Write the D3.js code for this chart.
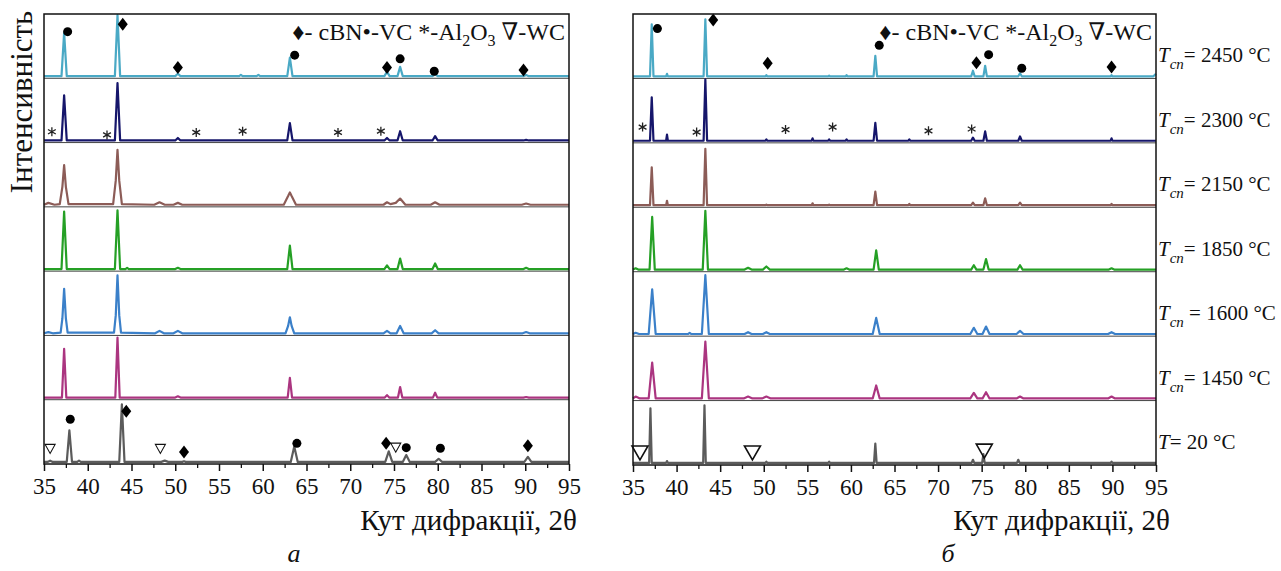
<!DOCTYPE html>
<html><head><meta charset="utf-8">
<script src="https://cdn.jsdelivr.net/npm/d3@7"></script>
<style>
body{margin:0;background:#fff}
svg{display:block}
text{font-family:"Liberation Serif","Times New Roman","DejaVu Serif",serif;fill:#111}
</style>
</head><body>
<svg id="chart" width="1281" height="571"></svg>
<script>
// ---------- DATA ----------
const rowLabels = ["2450","2300","2150","1850","1600","1450","20"];
const tickValues = [35,40,45,50,55,60,65,70,75,80,85,90,95];
const minorTicks = [37.5,42.5,47.5,52.5,57.5,62.5,67.5,72.5,77.5,82.5,87.5,92.5];
const rowColors = ["#4aa9c5","#16166b","#8c5c57","#25a025","#3b80c9","#ab3580","#5b5b5b"];

// panel a spectra: [2θ, relative intensity]
const L2450 = [[35,1],[37.0,1],[37.3,71],[37.6,1],[43.1,1],[43.4,100],[43.7,1],[50.0,1],[50.3,5],[50.6,1],[57.3,1],[57.5,3],[57.7,1],[59.3,1],[59.5,3],[59.7,1],[62.8,1],[63.1,31],[63.4,1],[73.9,1],[74.2,8],[74.5,1],[75.4,1],[75.7,16],[76.0,1],[79.4,1],[79.7,4],[80.0,1],[89.8,1],[90.1,3],[90.4,1],[95,1]];
const L2300 = [[35,1],[37.0,1],[37.3,74],[37.6,1],[43.1,1],[43.4,94],[43.7,1],[50.0,1],[50.3,5],[50.6,1],[62.8,1],[63.1,29],[63.4,1],[73.9,1],[74.2,5],[74.5,1],[75.4,1],[75.7,16],[76.0,1],[79.4,1],[79.7,8],[80.0,1],[89.8,1],[90.1,2],[90.4,1],[95,1]];
const L2150 = [[35,1],[35.5,4],[36.2,1],[36.8,2],[37.1,30],[37.3,65],[37.5,30],[37.8,2],[42.9,2],[43.2,40],[43.4,90],[43.6,40],[43.9,2],[47.6,1],[48.2,5],[48.8,1],[49.8,1],[50.3,4],[50.8,1],[62.4,1],[62.9,15],[63.1,21],[63.3,15],[63.8,1],[73.8,1],[74.2,5],[74.6,2],[75.2,4],[75.7,11],[76.3,1],[79.2,1],[79.7,5],[80.2,1],[89.6,1],[90.1,3],[90.6,1],[95,1]];
const L1850 = [[35,1],[37.0,1],[37.3,94],[37.6,1],[43.1,1],[43.4,96],[43.7,1],[44.3,1],[44.5,3],[44.7,1],[50.0,1],[50.3,3],[50.6,1],[62.8,1],[63.1,39],[63.4,1],[73.9,1],[74.2,7],[74.5,1],[75.4,1],[75.7,18],[76.0,1],[79.4,1],[79.7,10],[80.0,1],[89.8,1],[90.1,3],[90.4,1],[95,1]];
const L1600 = [[35,1],[35.5,3],[36.0,1],[36.9,2],[37.1,25],[37.3,73],[37.5,25],[37.7,2],[43.0,2],[43.2,30],[43.4,95],[43.6,30],[43.8,2],[47.7,1],[48.2,5],[48.7,1],[49.8,1],[50.3,5],[50.8,1],[62.6,1],[62.9,13],[63.1,27],[63.3,13],[63.6,1],[73.8,1],[74.2,5],[74.6,1],[75.3,1],[75.7,13],[76.1,1],[79.3,1],[79.7,6],[80.1,1],[89.7,1],[90.1,3],[90.5,1],[95,1]];
const L1450 = [[35,1],[37.05,1],[37.3,80],[37.55,1],[43.15,1],[43.4,98],[43.65,1],[50.0,1],[50.3,3],[50.6,1],[62.85,1],[63.1,33],[63.35,1],[73.95,1],[74.2,5],[74.45,1],[75.45,1],[75.7,18],[75.95,1],[79.45,1],[79.7,9],[79.95,1],[89.8,1],[90.1,2],[90.4,1],[95,1]];
const L20 = [[35,1],[35.4,1],[35.7,3],[36.0,1],[37.6,1],[37.9,52],[38.2,1],[38.8,1],[39.0,3],[39.2,1],[43.6,1],[43.9,94],[44.2,1],[48.4,1],[48.8,3],[49.2,1],[50.8,1],[51.0,2],[51.2,1],[63.2,1],[63.6,26],[64.0,1],[74.0,1],[74.4,18],[74.8,1],[76.0,1],[76.4,12],[76.8,1],[79.7,1],[80.1,6],[80.5,1],[89.9,1],[90.3,9],[90.7,1],[95,1]];

// panel б spectra
const R2450 = [[35,1],[36.95,1],[37.15,85],[37.35,1],[38.8,1],[38.9,5],[39.0,1],[43.1,1],[43.3,93],[43.5,1],[50.2,1],[50.3,3],[50.4,1],[57.4,1],[57.5,2],[57.6,1],[59.4,1],[59.5,3],[59.6,1],[62.6,1],[62.8,34],[63.0,1],[73.8,1],[74.0,10],[74.2,1],[75.2,1],[75.4,18],[75.6,1],[79.2,1],[79.4,6],[79.6,1],[89.8,1],[89.9,3],[90.0,1],[94.7,1],[95,5]];
const R2300 = [[35,1],[36.95,1],[37.15,71],[37.35,1],[38.8,1],[38.9,11],[39.0,1],[43.1,1],[43.3,100],[43.5,1],[50.2,1],[50.3,3],[50.4,1],[55.5,1],[55.6,5],[55.7,1],[57.4,1],[57.5,3],[57.6,1],[59.4,1],[59.5,3],[59.6,1],[62.6,1],[62.8,30],[63.0,1],[66.6,1],[66.7,3],[66.8,1],[73.8,1],[74.0,6],[74.2,1],[75.2,1],[75.4,16],[75.6,1],[79.2,1],[79.4,8],[79.6,1],[89.8,1],[89.9,5],[90.0,1],[95,1]];
const R2150 = [[35,1],[36.95,1],[37.15,62],[37.35,1],[38.8,1],[38.9,8],[39.0,1],[43.1,1],[43.3,92],[43.5,1],[50.2,1],[50.3,2],[50.4,1],[55.5,1],[55.6,4],[55.7,1],[57.4,1],[57.5,2],[57.6,1],[62.6,1],[62.8,23],[63.0,1],[66.6,1],[66.7,3],[66.8,1],[73.8,1],[74.0,5],[74.2,1],[75.2,1],[75.4,12],[75.6,1],[79.2,1],[79.4,5],[79.6,1],[89.8,1],[89.9,3],[90.0,1],[95,1]];
const R1850 = [[35,1],[35.3,3],[35.6,1],[36.9,1],[37.2,86],[37.5,1],[43.0,1],[43.3,96],[43.6,1],[47.8,1],[48.2,4],[48.6,1],[49.9,1],[50.3,6],[50.7,1],[59.2,1],[59.5,3],[59.8,1],[62.6,1],[62.9,32],[63.2,1],[73.8,1],[74.1,8],[74.4,1],[75.2,1],[75.5,18],[75.8,1],[79.1,1],[79.4,8],[79.7,1],[89.6,1],[89.9,3],[90.2,1],[95,1]];
const R1600 = [[35,1],[35.3,3],[35.7,1],[36.8,1],[37.2,73],[37.6,1],[41.3,1],[41.5,3],[41.7,1],[42.9,1],[43.3,96],[43.7,1],[47.8,1],[48.2,4],[48.6,1],[49.9,1],[50.3,4],[50.7,1],[62.5,1],[62.9,27],[63.3,1],[73.7,1],[74.1,11],[74.5,1],[75.1,1],[75.5,13],[75.9,1],[79.0,1],[79.4,6],[79.8,1],[89.5,1],[89.9,4],[90.3,1],[95,1]];
const R1450 = [[35,1],[35.3,4],[35.8,1],[36.8,1],[37.2,59],[37.6,1],[42.9,1],[43.3,93],[43.7,1],[47.7,1],[48.2,4],[48.7,1],[49.8,1],[50.3,4],[50.8,1],[62.5,1],[62.9,22],[63.3,1],[73.7,1],[74.1,10],[74.5,1],[75.1,1],[75.5,11],[75.9,1],[79.0,1],[79.4,4],[79.8,1],[89.5,1],[89.9,4],[90.3,1],[95,1]];
const R20 = [[35,1],[36.85,1],[37.0,89],[37.15,1],[38.8,1],[38.9,4],[39.0,1],[43.05,1],[43.2,94],[43.35,1],[50.2,1],[50.3,3],[50.4,1],[57.4,1],[57.5,3],[57.6,1],[62.65,1],[62.8,32],[62.95,1],[73.85,1],[74.0,6],[74.15,1],[75.05,1],[75.2,15],[75.35,1],[79.05,1],[79.2,6],[79.35,1],[89.8,1],[89.9,3],[90.0,1],[95,1]];

// phase markers: [row, 2θ, intensity, type]  d=cBN, c=VC, s=Al2O3, w/W=WC
const markersA = [
 [0,37.7,73,"c"],[0,44.0,85,"d"],[0,50.3,15,"d"],[0,63.65,35,"c"],[0,74.2,15,"d"],[0,75.7,29,"c"],[0,79.6,9,"c"],[0,89.8,11,"d"],
 [1,35.9,15,"s"],[1,42.2,10,"s"],[1,52.4,14,"s"],[1,57.7,16,"s"],[1,68.6,14,"s"],[1,73.5,16,"s"],
 [6,35.7,22,"w"],[6,48.3,22,"w"],[6,38.0,70,"c"],[6,44.4,83,"d"],[6,51.0,17,"d"],[6,63.9,31,"c"],[6,74.1,31,"d"],[6,75.2,24,"w"],[6,76.4,24,"c"],[6,80.3,23,"c"],[6,90.3,27,"d"]
];
const markersB = [
 [0,37.8,78,"c"],[0,44.2,92,"d"],[0,50.45,22,"d"],[0,63.25,51,"c"],[0,74.4,23,"d"],[0,75.8,36,"c"],[0,79.6,14,"c"],[0,89.9,16,"d"],
 [1,36.1,23,"s"],[1,42.3,15,"s"],[1,52.5,19,"s"],[1,57.9,23,"s"],[1,68.9,17,"s"],[1,73.85,20,"s"],
 [6,35.8,17,"W"],[6,48.7,17,"W"],[6,75.3,20,"W"]
];
const tempLabels = [
 {t:"2450", sub:true, sp:""},{t:"2300", sub:true, sp:""},{t:"2150", sub:true, sp:""},
 {t:"1850", sub:true, sp:""},{t:"1600", sub:true, sp:" "},{t:"1450", sub:true, sp:""},{t:"20", sub:false, sp:""}
];

// ---------- DRAW ----------
const svg = d3.select("#chart");
const panels = [
 {x0:44, x1:569, y0:14, y1:464, spectra:[L2450,L2300,L2150,L1850,L1600,L1450,L20], markers:markersA, legendEnd:565, xLabelEnd:577, cap:"а", capX:294},
 {x0:633, x1:1156, y0:14, y1:465, spectra:[R2450,R2300,R2150,R1850,R1600,R1450,R20], markers:markersB, legendEnd:1152, xLabelEnd:1170, cap:"б", capX:948}
];

panels.forEach((p, pi) => {
  const x = d3.scaleLinear().domain([35,95]).range([p.x0, p.x1]);
  const band = d3.scaleBand().domain(d3.range(7)).range([p.y0, p.y1]);
  const yFor = i => d3.scaleLinear().domain([0,100]).range([band(i)+band.bandwidth()-1.5, band(i)+1]);
  const g = svg.append("g");

  g.selectAll("line.sep").data(d3.range(1,7)).join("line")
    .attr("x1", p.x0).attr("x2", p.x1)
    .attr("y1", d => band(d)).attr("y2", d => band(d))
    .attr("stroke", "#444").attr("stroke-width", 1);

  p.spectra.forEach((s, i) => {
    const y = yFor(i);
    const line = d3.line().x(d => x(d[0])).y(d => y(d[1]));
    g.append("path").datum(s).attr("d", line)
      .attr("fill","none").attr("stroke", rowColors[i]).attr("stroke-width", 2.2)
      .attr("stroke-linejoin","round");
  });

  p.markers.forEach(m => {
    const cx = x(m[1]), cy = yFor(m[0])(m[2]);
    const t = m[3];
    if (t === "c") {
      g.append("circle").attr("cx", cx).attr("cy", cy).attr("r", 4.5).attr("fill", "#000");
    } else if (t === "d") {
      g.append("path").attr("d", "M0,-6.5L5,0L0,6.5L-5,0Z").attr("transform", `translate(${cx},${cy})`).attr("fill","#000");
    } else if (t === "s") {
      const r = 4.5, a = r*Math.cos(Math.PI/6), b = r*Math.sin(Math.PI/6);
      g.append("path").attr("d", `M0,${-r}V${r}M${-a},${-b}L${a},${b}M${-a},${b}L${a},${-b}`)
        .attr("transform", `translate(${cx},${cy})`).attr("stroke","#222").attr("stroke-width",1.3);
    } else if (t === "w") {
      g.append("path").attr("d","M-5,-4.5L5,-4.5L0,4.5Z").attr("transform", `translate(${cx},${cy})`)
        .attr("fill","none").attr("stroke","#111").attr("stroke-width",1.1);
    } else if (t === "W") {
      g.append("path").attr("d","M-8,-7L8,-7L0,7Z").attr("transform", `translate(${cx},${cy})`)
        .attr("fill","none").attr("stroke","#111").attr("stroke-width",1.6);
    }
  });

  g.append("rect").attr("x", p.x0).attr("y", p.y0).attr("width", p.x1-p.x0).attr("height", p.y1-p.y0)
    .attr("fill","none").attr("stroke","#111").attr("stroke-width",1.5);

  const ax = g.append("g").attr("transform", `translate(0,${p.y1})`)
    .call(d3.axisBottom(x).tickValues(tickValues).tickSize(7).tickFormat(d3.format("d")));
  ax.select(".domain").remove();
  ax.selectAll("line").attr("stroke","#111").attr("stroke-width",1.5);
  ax.selectAll("text").attr("dy", null).attr("y", 30).style("font-size","23px")
    .style("font-family", '"Liberation Serif",serif').attr("fill","#111");
  const axm = g.append("g").attr("transform", `translate(0,${p.y1})`)
    .call(d3.axisBottom(x).tickValues(minorTicks).tickSize(4).tickFormat(""));
  axm.select(".domain").remove();
  axm.selectAll("line").attr("stroke","#111").attr("stroke-width",1.3);

  g.append("text").attr("x", p.xLabelEnd).attr("y", 530).attr("text-anchor","end")
    .style("font-size","29px").text("Кут дифракції, 2θ");

  const lg = g.append("text").attr("x", p.legendEnd).attr("y", 40).attr("text-anchor","end").style("font-size","24px");
  lg.append("tspan").text("♦- cBN•-VC *-Al");
  lg.append("tspan").attr("dy", 6).style("font-size","16px").text("2");
  lg.append("tspan").attr("dy", -6).text("O");
  lg.append("tspan").attr("dy", 6).style("font-size","16px").text("3");
  lg.append("tspan").attr("dy", -6).text(" ∇-WC");

  g.append("text").attr("x", p.capX).attr("y", 562).attr("text-anchor","middle")
    .style("font-size","26px").style("font-style","italic").text(p.cap);

  if (pi === 1) {
    tempLabels.forEach((l, i) => {
      const by = band(i) + band.bandwidth() - 16;
      const tx = g.append("text").attr("x", 1158).attr("y", by).style("font-size","21px");
      tx.append("tspan").style("font-style","italic").text("T");
      if (l.sub) {
        tx.append("tspan").attr("dy", 7).style("font-style","italic").style("font-size","15px").text("cn");
        tx.append("tspan").attr("dy", -7).text(l.sp + "= " + l.t + " °C");
      } else {
        tx.append("tspan").text("= " + l.t + " °C");
      }
    });
  }
});

svg.append("text").attr("transform","translate(32,102) rotate(-90)").attr("text-anchor","middle")
  .style("font-size","31px").text("Інтенсивність");
</script>
</body></html>
